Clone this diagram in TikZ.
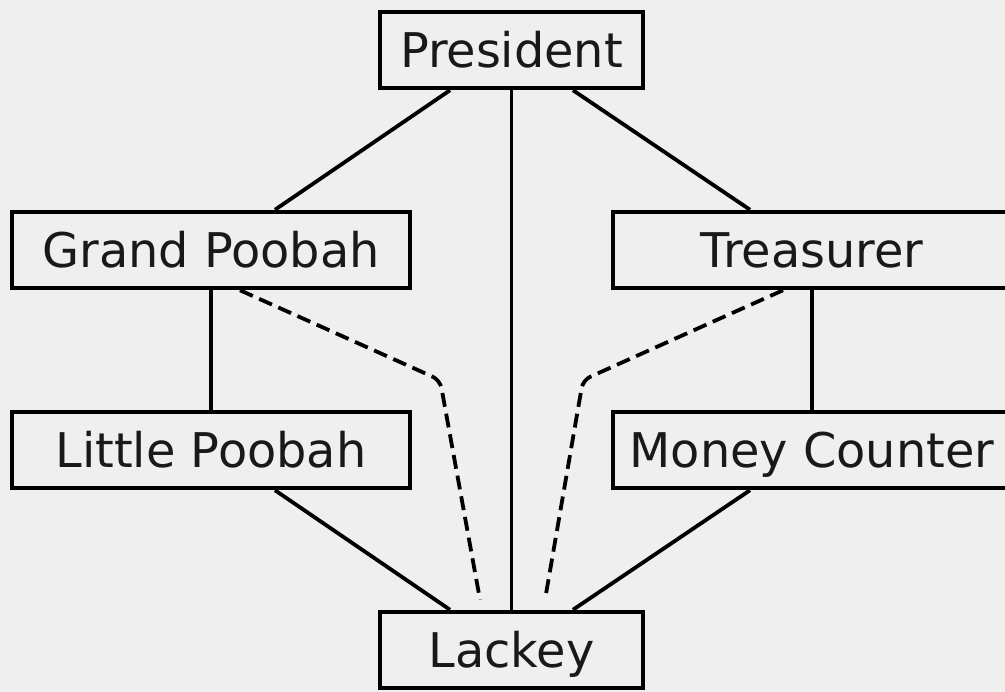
\documentclass[tikz,border=0pt]{standalone}
\usepackage{fontspec}
\setmainfont{DejaVu Sans}
\definecolor{bg}{RGB}{239,239,239}
\definecolor{ink}{RGB}{25,25,25}
\begin{document}
\begin{tikzpicture}[x=1pt,y=-1pt,
  box/.style={draw=black, line width=4.5pt, rectangle, inner sep=0pt,
    minimum height=76pt, text=ink, text height=35pt, text depth=0pt,
    font=\fontsize{47.8}{57}\selectfont},
  narrowbox/.style={box, minimum width=263pt},
  widebox/.style={box, minimum width=398pt},
  link/.style={draw=black, line width=3.8pt},
  duty/.style={draw=black, line width=3.8pt, dash pattern=on 14pt off 7pt, rounded corners=8pt}]
\fill[bg] (0,0) rectangle (1005,692);
\useasboundingbox (0,0) rectangle (1005,692);
\clip (0,0) rectangle (1005,692);
\node[narrowbox] (P) at (511.5,50) {President};
\node[widebox] (GP) at (211,250) {Grand Poobah};
\node[widebox] (T) at (812,250) {Treasurer};
\node[widebox] (LP) at (211,450) {Little Poobah};
\node[widebox] (MC) at (812,450) {Money Counter};
\node[narrowbox] (L) at (511.5,650) {Lackey};
\coordinate (dl) at (440,380);
\coordinate (dr) at (583,380);
\draw[link] ([xshift=-61.5pt]P.south) -- ([xshift=64pt]GP.north);
\draw[link] ([xshift=61.5pt]P.south) -- ([xshift=-62pt]T.north);
\draw[link] (P.south) -- (L.north);
\draw[link] (GP.south) -- (LP.north);
\draw[link] (T.south) -- (MC.north);
\draw[link] ([xshift=64pt]LP.south) -- ([xshift=-61.5pt]L.north);
\draw[link] ([xshift=-62pt]MC.south) -- ([xshift=61.5pt]L.north);
\draw[duty] ([xshift=29pt]GP.south) -- (dl) -- ([xshift=-31.5pt,yshift=10pt]L.north);
\draw[duty] ([xshift=-29pt]T.south) -- (dr) -- ([xshift=33.5pt,yshift=10pt]L.north);
\end{tikzpicture}
\end{document}
